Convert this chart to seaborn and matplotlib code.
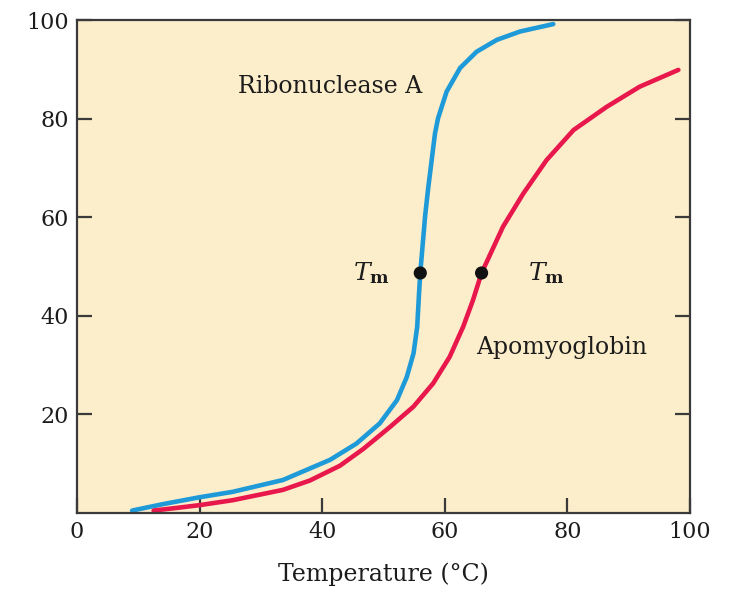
import pandas as pd
import matplotlib
matplotlib.use('Agg')
import matplotlib.pyplot as plt
import seaborn as sns

# values
ribo_temp = [9, 14, 20, 25.4, 33.6, 41.3, 45.6, 49.4, 52.2, 53.8, 54.9, 55.5, 55.8, 56,
             56.8, 57.3, 57.8, 58.4, 58.9, 60.3, 62.5, 65.2, 68.5, 72.3, 77.7]
ribo_unf = [0.5, 1.8, 3.2, 4.3, 6.7, 10.8, 14.1, 18.2, 22.9, 27.6, 32.4, 37.8, 44.6, 48.7,
            60.4, 66, 71, 77, 80.1, 85.5, 90.3, 93.6, 96, 97.7, 99.2]

apo_temp = [12.5, 16, 20, 25.4, 33.6, 38, 42.9, 46.7, 51.1, 54.9, 58.1, 60.8, 63, 64.6, 66,
            69.5, 72.8, 76.6, 81, 86.4, 91.8, 98.1]
apo_unf = [0.5, 1.0, 1.6, 2.6, 4.7, 6.6, 9.6, 13, 17.5, 21.6, 26.3, 31.7, 37.8, 43.2, 48.7,
           58.1, 64.8, 71.6, 77.7, 82.4, 86.5, 89.9]

tm_temp = [56, 66]
tm_unf = [48.7, 48.7]

x_ticks = [0, 20, 40, 60, 80, 100]
y_ticks = [20, 40, 60, 80, 100]

sns.set_style('ticks')
plt.rcParams['font.family'] = ['DejaVu Serif']
plt.rcParams['mathtext.fontset'] = 'dejavuserif'

ribo = pd.DataFrame({'temp': ribo_temp, 'unf': ribo_unf})
apo = pd.DataFrame({'temp': apo_temp, 'unf': apo_unf})
tm = pd.DataFrame({'temp': tm_temp, 'unf': tm_unf})

fig = plt.figure(figsize=(7.29, 5.92), dpi=100)
ax = fig.add_axes([0.1056, 0.1334, 0.8409, 0.8326])
ax.set_facecolor('#fdeecb')

sns.lineplot(data=ribo, x='temp', y='unf', ax=ax, color='#1f9ad8', lw=3.3,
             sort=False, solid_capstyle='round', solid_joinstyle='round')
sns.lineplot(data=apo, x='temp', y='unf', ax=ax, color='#e8174c', lw=3.3,
             sort=False, solid_capstyle='round', solid_joinstyle='round')
sns.scatterplot(data=tm, x='temp', y='unf', ax=ax, color='#111111', s=90,
                edgecolor='none', zorder=5)

txt = '#1c1c1c'
ax.text(41.3, 86.6, 'Ribonuclease A', fontsize=17, ha='center', va='center', color=txt)
ax.text(79, 33.5, 'Apomyoglobin', fontsize=17, ha='center', va='center', color=txt)
ax.text(48, 48.7, r'$T_{\mathbf{m}}$', fontsize=18, ha='center', va='center', color=txt)
ax.text(76.5, 48.7, r'$T_{\mathbf{m}}$', fontsize=18, ha='center', va='center', color=txt)

ax.set_xlim(0, 100)
ax.set_ylim(0, 100)
ax.set_xticks(x_ticks)
ax.set_yticks(y_ticks)
ax.set_xlabel('Temperature (°C)', fontsize=17, labelpad=14, color=txt)
ax.set_ylabel('')

for side in ['left', 'right', 'top', 'bottom']:
    ax.spines[side].set_visible(True)
    ax.spines[side].set_linewidth(1.6)
    ax.spines[side].set_color('#3a3a3a')

ax.tick_params(axis='both', direction='in', length=11, width=1.6, color='#3a3a3a',
               labelsize=16, labelcolor=txt, pad=6)
ax.tick_params(axis='y', right=True, left=True)
ax.tick_params(axis='x', top=False)

fig.savefig('out.png', dpi=100, facecolor='white')
